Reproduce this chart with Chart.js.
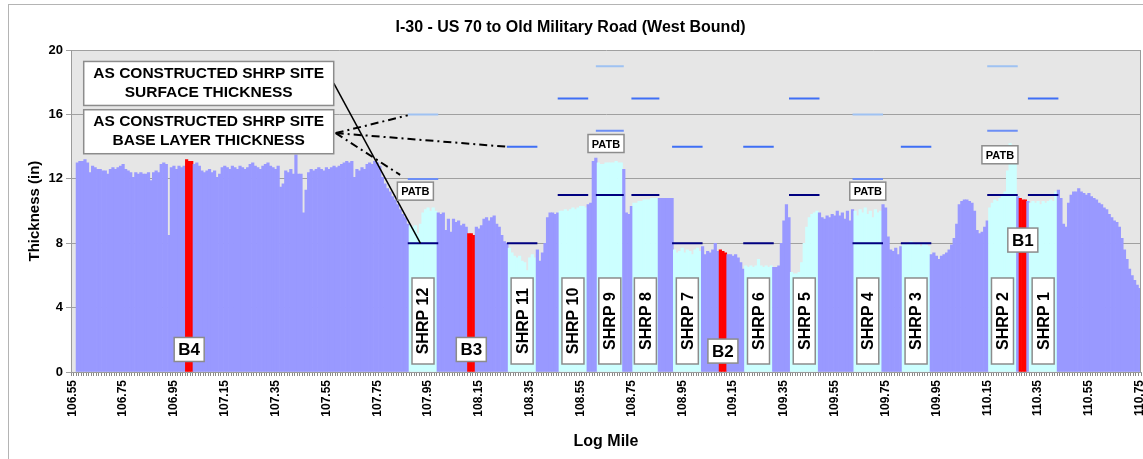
<!DOCTYPE html>
<html>
<head>
<meta charset="utf-8">
<script src="https://cdn.jsdelivr.net/npm/chart.js@4.4.0/dist/chart.umd.min.js"></script>
<style>
  html, body { margin: 0; padding: 0; background: #fff; }
</style>
</head>
<body>
<canvas id="chart-thickness" width="1143" height="459"></canvas>
<script>
// I-30 - US 70 to Old Military Road, west bound thickness profile

var startMile = 106.55;
var endMile = 110.75;
var mileStep = 0.01;

var xTickLabels = ["106.55", "106.75", "106.95", "107.15", "107.35", "107.55", "107.75", "107.95",
  "108.15", "108.35", "108.55", "108.75", "108.95", "109.15", "109.35", "109.55", "109.75",
  "109.95", "110.15", "110.35", "110.55", "110.75"];
var yTicks = [0, 4, 8, 12, 16, 20];

// measured thickness (in), one value every 0.01 mile from 106.55
var thickness = [
  null, null, 13.0, 13.1, 13.1, 13.2, 13.0, 12.4, 12.8, 12.7,
  12.6, 12.6, 12.5, 12.5, 12.3, 12.6, 12.7, 12.6, 12.7, 12.8,
  12.9, 12.6, 12.5, 12.4, 12.1, 12.4, 12.3, 12.4, 12.3, 12.3,
  12.4, 11.9, 12.4, 12.5, 12.4, 12.9, 13.0, 12.9, 8.5, 12.7,
  12.8, 12.6, 12.8, 12.7, 12.8, 13.2, 13.1, 13.1, 12.9, 13.0,
  12.8, 12.5, 12.4, 12.5, 12.6, 12.4, 12.5, 12.1, 12.3, 12.7,
  12.8, 12.7, 12.6, 12.8, 12.7, 12.6, 12.8, 12.7, 12.6, 12.7,
  12.9, 13.0, 12.8, 12.7, 12.6, 12.8, 12.9, 13.0, 12.8, 12.7,
  12.6, 12.8, 11.5, 11.7, 12.5, 12.4, 12.6, 12.3, 13.5, 12.3,
  12.3, 9.9, 11.3, 12.4, 12.6, 12.5, 12.6, 12.7, 12.6, 12.5,
  12.7, 12.6, 12.7, 12.8, 12.7, 12.8, 12.9, 13.0, 13.1, 13.0,
  13.1, 12.1, 12.6, 12.5, 12.7, 12.6, 12.9, 13.0, 12.9, 13.1,
  13.0, 12.8, 12.1, 11.7, 11.4, 11.2, 10.9, 10.7, 10.4, 10.1,
  9.8, 9.6, 9.2, 9.1, 9.0, 9.1, 8.6, 9.2, 9.9, 10.1,
  10.2, 10.0, 10.2, 10.0, 9.9, 9.8, 9.9, 8.8, 9.5, 8.7,
  9.5, 9.3, 9.4, 9.1, 9.2, 9.0, 8.6, 8.6, 8.5, 9.0,
  8.9, 9.1, 9.5, 9.6, 9.4, 9.6, 9.7, 9.2, 9.0, 8.5,
  8.1, 8.0, 7.7, 7.4, 7.2, 7.1, 7.2, 6.9, 6.8, 6.3,
  7.1, 7.3, 7.1, 7.6, 6.9, 7.4, 8.0, 9.6, 9.9, 9.9,
  9.8, 9.9, 10.0, 10.0, 10.1, 10.0, 10.1, 10.2, 10.1, 10.2,
  10.3, 10.3, 10.2, 10.4, 10.5, 13.1, 13.3, 13.0, 12.9, 12.9,
  13.0, 13.0, 13.0, 13.0, 13.1, 13.0, 13.0, 12.6, 9.9, 9.8,
  10.3, 10.5, 10.5, 10.6, 10.6, 10.7, 10.7, 10.7, 10.8, 10.8,
  10.8, 10.8, 10.8, 10.8, 10.8, 10.8, 10.8, 7.6, 7.4, 7.5,
  7.7, 7.4, 7.6, 7.5, 7.3, 7.6, 7.7, 7.5, 7.8, 7.3,
  7.5, 7.4, 7.6, 8.0, 7.5, 7.6, 7.5, 7.4, 7.3, 7.3,
  7.2, 7.3, 7.1, 6.8, 6.4, 6.6, 6.5, 6.6, 6.5, 6.6,
  7.0, 6.6, 6.5, 6.6, 6.5, 6.6, 6.5, 6.5, 6.6, 8.0,
  9.4, 10.4, 9.6, 6.2, 6.1, 6.1, 6.2, 6.8, 8.0, 9.0,
  9.6, 9.8, 9.9, 10.0, 9.9, 9.6, 9.5, 9.7, 9.6, 9.8,
  9.7, 10.0, 9.7, 9.9, 9.5, 10.0, 9.4, 10.1, 10.0, 9.7,
  10.1, 9.9, 10.2, 9.8, 10.0, 9.6, 10.1, 9.9, 10.0, 10.4,
  10.2, 8.4, 7.6, 7.5, 7.7, 7.3, 7.8, 8.0, 7.9, 8.0,
  8.1, 8.0, 7.9, 8.0, 7.8, 8.0, 7.9, 7.8, 7.3, 7.4,
  7.2, 7.0, 7.2, 7.3, 7.4, 7.6, 7.9, 8.3, 9.2, 10.4,
  10.6, 10.7, 10.7, 10.6, 10.5, 10.0, 8.8, 8.6, 8.7, 9.0,
  9.4, 10.2, 10.5, 10.7, 10.6, 10.8, 11.0, 11.2, 12.5, 14.2,
  14.0, 13.5, 10.9, 10.8, 10.7, 10.7, 10.6, 10.5, 10.6, 10.5,
  10.6, 10.4, 10.6, 10.5, 10.6, 10.7, 10.6, 11.2, 11.3, 10.8,
  9.2, 9.0, 10.5, 11.0, 11.2, 11.2, 11.4, 11.2, 11.1, 11.0,
  11.1, 10.9, 10.8, 10.7, 10.5, 10.4, 10.2, 10.1, 9.8, 9.6,
  9.4, 9.3, 9.0, 8.3, 7.6, 7.0, 6.4, 6.0, 5.7, 5.4,
  5.2
];

// SHRP sites: limits (log mile) and as constructed layer tops (in)
var siteNames = ["SHRP 12", "SHRP 11", "SHRP 10", "SHRP 9", "SHRP 8", "SHRP 7",
  "SHRP 6", "SHRP 5", "SHRP 4", "SHRP 3", "SHRP 2", "SHRP 1"];
var siteFrom = [107.87, 108.26, 108.46, 108.61, 108.75, 108.91, 109.19, 109.37, 109.62, 109.81, 110.15, 110.31];
var siteTo   = [107.99, 108.38, 108.58, 108.72, 108.86, 109.03, 109.31, 109.49, 109.74, 109.93, 110.27, 110.43];
var siteBase    = [8, 8, 11, 11, 11, 8, 8, 11, 8, 8, 11, 11];
var siteSurface = [null, 14, 17, null, 17, 14, 14, 17, null, 14, null, 17];
var sitePatb    = [12, null, null, 15, null, null, null, null, 12, null, 15, null];
var siteTop     = [16, null, null, 19, null, null, null, null, 16, null, 19, null];

// borings
var boringNames = ["B4", "B3", "B2", "B1"];
var boringFrom = [107.00, 108.11, 109.10, 110.28];
var boringTo   = [107.02, 108.13, 109.12, 110.30];

var categories = [];
for (var i = 0; i <= Math.round((endMile - startMile) / mileStep); i++) {
  categories.push((startMile + i * mileStep).toFixed(2));
}
function idx(mile) { return Math.round((mile - startMile) / mileStep); }

var barColors = categories.map(function () { return "#9999FF"; });
siteNames.forEach(function (n, s) {
  for (var i = idx(siteFrom[s]) + 1; i < idx(siteTo[s]); i++) barColors[i] = "#CCFFFF";
});
boringNames.forEach(function (n, b) {
  for (var i = idx(boringFrom[b]); i <= idx(boringTo[b]); i++) barColors[i] = "#FF0000";
});

function levelLine(levels) {
  var out = categories.map(function () { return null; });
  siteNames.forEach(function (n, s) {
    if (levels[s] == null) return;
    for (var i = idx(siteFrom[s]); i <= idx(siteTo[s]); i++) out[i] = levels[s];
  });
  return out;
}

var FONT = '"Liberation Sans", Arial, sans-serif';

function drawBox(c, x, y, w, h) {
  c.fillStyle = "#FFFFFF";
  c.fillRect(x, y, w, h);
  c.strokeStyle = "#8C8C8C";
  c.lineWidth = 1.5;
  c.strokeRect(x, y, w, h);
}

var notes = {
  id: "notes",
  beforeDraw: function (chart) {
    var c = chart.ctx, a = chart.chartArea;
    c.save();
    c.fillStyle = "#E6E6E6";
    c.fillRect(a.left, a.top, a.right - a.left, a.bottom - a.top);
    c.strokeStyle = "#B4B4B4";
    c.lineWidth = 1;
    c.strokeRect(8.5, 4.5, chart.width + 20, chart.height + 20);
    c.restore();
  },
  afterDatasetsDraw: function (chart) {
    var c = chart.ctx, a = chart.chartArea;
    var sx = chart.scales.x, sy = chart.scales.y;
    var X = function (mile) { return sx.getPixelForValue((mile - startMile) / mileStep); };
    var Y = function (v) { return sy.getPixelForValue(v); };
    c.save();

    // plot border right
    c.strokeStyle = "#9A9A9A";
    c.lineWidth = 1;
    c.beginPath();
    c.moveTo(a.right - 0.5, a.top);
    c.lineTo(a.right - 0.5, a.bottom);
    c.stroke();

    // callout boxes
    var bx = X(106.595), bw = 250, bh = 44;
    var b1y = Y(19.3), b2y = Y(16.3);

    // leader lines
    c.strokeStyle = "#000";
    c.lineWidth = 1.5;
    c.beginPath();
    c.moveTo(bx + bw, Y(17.95));
    c.lineTo(X(107.92), Y(8));
    c.stroke();

    c.lineWidth = 2;
    c.setLineDash([8, 4, 2, 4]);
    [[107.87, 15.95], [108.26, 14.0], [107.84, 12.25]].forEach(function (p) {
      c.beginPath();
      c.moveTo(bx + bw + 2, Y(14.85));
      c.lineTo(X(p[0]), Y(p[1]));
      c.stroke();
    });
    c.setLineDash([]);

    c.textAlign = "center";
    c.textBaseline = "middle";
    drawBox(c, bx, b1y, bw, bh);
    drawBox(c, bx, b2y, bw, bh);
    c.fillStyle = "#000";
    c.font = "bold 15.5px " + FONT;
    c.fillText("AS CONSTRUCTED SHRP SITE", bx + bw / 2, b1y + 12);
    c.fillText("SURFACE THICKNESS", bx + bw / 2, b1y + 31);
    c.fillText("AS CONSTRUCTED SHRP SITE", bx + bw / 2, b2y + 12);
    c.fillText("BASE LAYER THICKNESS", bx + bw / 2, b2y + 31);

    // site labels
    siteNames.forEach(function (n, s) {
      var cx = X((siteFrom[s] + siteTo[s]) / 2), cy = Y(3.17);
      c.save();
      c.translate(cx, cy);
      c.rotate(-Math.PI / 2);
      drawBox(c, -43, -11, 86, 22);
      c.fillStyle = "#000";
      c.font = "bold 16px " + FONT;
      c.fillText(n, 0, 1);
      c.restore();
    });

    // boring labels
    var boringAt = [1.4, 1.4, 1.3, 8.2];
    boringNames.forEach(function (n, b) {
      var cx = X((boringFrom[b] + boringTo[b]) / 2), cy = Y(boringAt[b]);
      drawBox(c, cx - 15, cy - 12, 30, 24);
      c.fillStyle = "#000";
      c.font = "bold 17px " + FONT;
      c.fillText(n, cx, cy + 1);
    });

    // PATB tags
    [[107.90, 11.24], [108.65, 14.2], [109.68, 11.24], [110.20, 13.5]].forEach(function (p) {
      var cx = X(p[0]), cy = Y(p[1]);
      drawBox(c, cx - 18, cy - 9, 36, 18);
      c.fillStyle = "#000";
      c.font = "bold 11px " + FONT;
      c.fillText("PATB", cx, cy + 1);
    });

    c.restore();
  }
};

var lineStyle = function (label, data, color) {
  return {
    type: "line",
    label: label,
    data: data,
    borderColor: color,
    borderWidth: 2,
    pointRadius: 0,
    spanGaps: false,
    fill: false,
    order: 0
  };
};

new Chart(document.getElementById("chart-thickness"), {
  type: "bar",
  data: {
    labels: categories,
    datasets: [
      lineStyle("Base", levelLine(siteBase), "#000080"),
      lineStyle("Surface", levelLine(siteSurface), "#3F6FF5"),
      lineStyle("PATB", levelLine(sitePatb), "#6C8EF5"),
      lineStyle("Top", levelLine(siteTop), "#9FC2F2"),
      {
        label: "Thickness",
        data: thickness,
        backgroundColor: barColors,
        borderWidth: 0,
        barPercentage: 1,
        categoryPercentage: 1,
        order: 1
      }
    ]
  },
  options: {
    responsive: false,
    animation: false,
    layout: { padding: { left: 0, right: 2, top: 0, bottom: 0 } },
    plugins: {
      legend: { display: false },
      tooltip: { enabled: false },
      title: {
        display: true,
        text: "I-30 - US 70 to Old Military Road (West Bound)",
        color: "#000",
        font: { family: FONT, size: 16, weight: "bold" },
        padding: { top: 18, bottom: 13 }
      }
    },
    scales: {
      x: {
        offset: true,
        grid: {
          display: true,
          drawOnChartArea: false,
          drawTicks: true,
          tickLength: 4,
          color: "#8A8A8A"
        },
        border: { display: true, color: "#9A9A9A" },
        ticks: {
          autoSkip: false,
          maxRotation: 90,
          minRotation: 90,
          padding: 4,
          color: "#000",
          font: { family: FONT, size: 12, weight: "bold" },
          callback: function (v, i) {
            return xTickLabels.indexOf(categories[i]) >= 0 ? categories[i] : "";
          }
        },
        title: {
          display: true,
          text: "Log Mile",
          color: "#000",
          font: { family: FONT, size: 16, weight: "bold" },
          padding: 8
        },
        afterFit: function (scale) {
          scale.height = 87;
          scale.paddingLeft = 0;
          scale.paddingRight = 0;
        }
      },
      y: {
        min: 0,
        max: 20,
        afterBuildTicks: function (scale) {
          scale.ticks = yTicks.map(function (v) { return { value: v }; });
        },
        grid: {
          color: "#A0A0A0",
          drawTicks: true,
          tickLength: 5
        },
        border: { display: true, color: "#9A9A9A" },
        ticks: {
          padding: 3,
          color: "#000",
          font: { family: FONT, size: 13, weight: "bold" }
        },
        title: {
          display: true,
          text: "Thickness (in)",
          color: "#000",
          font: { family: FONT, size: 15, weight: "bold" },
          padding: 26
        },
        afterFit: function (scale) {
          scale.width = 71;
          scale.paddingTop = 0;
          scale.paddingBottom = 0;
        }
      }
    }
  },
  plugins: [notes]
});
</script>
</body>
</html>
